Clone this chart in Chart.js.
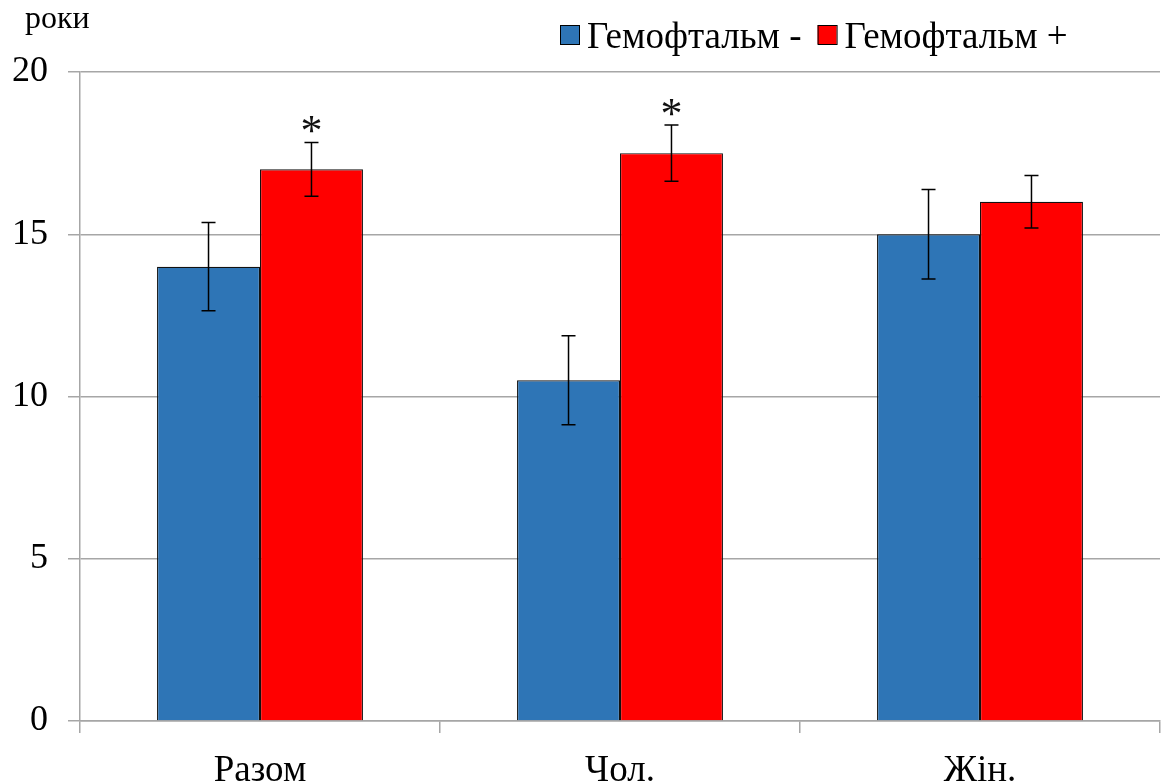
<!DOCTYPE html>
<html>
<head>
<meta charset="utf-8">
<script src="https://cdn.jsdelivr.net/npm/chart.js@4/dist/chart.umd.min.js"></script>
<style>
  html, body { margin: 0; padding: 0; background: #fff; }
  #wrap { width: 1162px; height: 783px; position: relative; }
</style>
</head>
<body>
<div id="wrap"><canvas id="chart"></canvas></div>
<script>
const categories = ["Разом", "Чол.", "Жін."];
const seriesNames = ["Гемофтальм -", "Гемофтальм +"];
const hemNeg = [14, 10.5, 15];
const hemPos = [17, 17.5, 16];
const hemNegErr = [1.36, 1.37, 1.38];
const hemPosErr = [0.83, 0.87, 0.81];
const hemPosMarks = ["*", "*", ""];
const yTicks = [0, 5, 10, 15, 20];
const yUnit = "роки";

const SERIF = "'Liberation Serif', 'Times New Roman', serif";
const GRID = "#a6a6a6";

// error bars + significance marks
const errorBars = {
  id: "errorBars",
  afterDatasetsDraw(chart) {
    const ctx = chart.ctx;
    const y = chart.scales.y;
    chart.data.datasets.forEach((ds, di) => {
      const meta = chart.getDatasetMeta(di);
      meta.data.forEach((bar, i) => {
        const v = ds.data[i];
        const e = ds.errors[i];
        const yt = y.getPixelForValue(v + e);
        const yb = y.getPixelForValue(v - e);
        const x = bar.x;
        ctx.save();
        ctx.strokeStyle = "#000";
        ctx.lineWidth = 1.5;
        ctx.beginPath();
        ctx.moveTo(x, yt); ctx.lineTo(x, yb);
        ctx.moveTo(x - 7, yt); ctx.lineTo(x + 7, yt);
        ctx.moveTo(x - 7, yb); ctx.lineTo(x + 7, yb);
        ctx.stroke();
        if (ds.marks && ds.marks[i]) {
          ctx.fillStyle = "#111";
          ctx.font = "44px " + SERIF;
          ctx.textAlign = "center";
          ctx.textBaseline = "alphabetic";
          ctx.fillText(ds.marks[i], x, yt + 3);
        }
        ctx.restore();
      });
    });
  }
};

// legend row + axis unit label
const topTexts = {
  id: "topTexts",
  afterDraw(chart) {
    const ctx = chart.ctx;
    ctx.save();
    ctx.fillStyle = "#000";
    ctx.font = "32px " + SERIF;
    ctx.textAlign = "left";
    ctx.textBaseline = "alphabetic";
    ctx.fillText(yUnit, 25, 28);

    ctx.font = "37px " + SERIF;
    let x = 560;
    chart.data.datasets.forEach((ds) => {
      ctx.fillStyle = ds.backgroundColor;
      ctx.fillRect(x, 25, 19, 19);
      ctx.strokeStyle = "#000";
      ctx.lineWidth = 1;
      ctx.strokeRect(x + 0.5, 25.5, 19, 19);
      ctx.fillStyle = "#000";
      ctx.fillText(ds.label, x + 27, 48);
      x += 27 + ctx.measureText(ds.label).width + 16;
    });
    ctx.restore();
  }
};

new Chart(document.getElementById("chart"), {
  type: "bar",
  data: {
    labels: categories,
    datasets: [
      {
        label: seriesNames[0],
        data: hemNeg,
        errors: hemNegErr,
        backgroundColor: "#2e75b6",
        borderColor: "#111",
        borderWidth: 1.2,
        borderSkipped: "bottom"
      },
      {
        label: seriesNames[1],
        data: hemPos,
        errors: hemPosErr,
        marks: hemPosMarks,
        backgroundColor: "#ff0000",
        borderColor: "#111",
        borderWidth: 1.2,
        borderSkipped: "bottom"
      }
    ]
  },
  options: {
    responsive: true,
    maintainAspectRatio: false,
    animation: false,
    layout: { padding: { top: 72, right: 2, left: 0, bottom: 0 } },
    datasets: { bar: { categoryPercentage: 0.572, barPercentage: 1 } },
    plugins: {
      legend: { display: false },
      tooltip: { enabled: false }
    },
    scales: {
      x: {
        grid: {
          display: true,
          offset: true,
          drawOnChartArea: false,
          drawTicks: true,
          tickLength: 12,
          color: GRID,
          lineWidth: 1.5
        },
        border: { display: true, color: GRID, width: 1.5 },
        ticks: {
          color: "#000",
          font: { family: SERIF, size: 37 },
          padding: 16
        },
        afterFit(scale) { scale.height = 62; }
      },
      y: {
        min: 0,
        max: 20,
        afterBuildTicks(scale) { scale.ticks = yTicks.map((v) => ({ value: v })); },
        grid: {
          color: GRID,
          lineWidth: 1.5,
          drawTicks: true,
          tickLength: 12
        },
        border: { display: true, color: GRID, width: 1.5 },
        ticks: {
          color: "#000",
          font: { family: SERIF, size: 36 },
          padding: 20
        },
        afterFit(scale) { scale.width = 80; }
      }
    }
  },
  plugins: [errorBars, topTexts]
});
</script>
</body>
</html>
